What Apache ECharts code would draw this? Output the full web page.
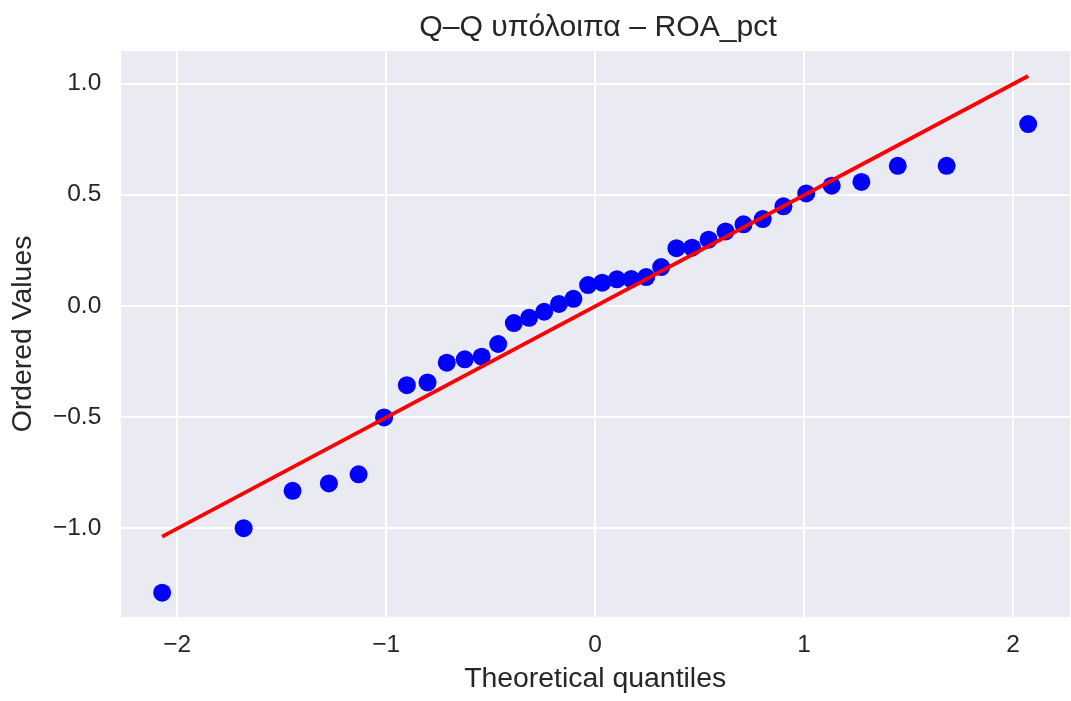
<!DOCTYPE html>
<html>
<head>
<meta charset="utf-8">
<script src="https://cdn.jsdelivr.net/npm/echarts@6/dist/echarts.min.js"></script>
<style>
html,body{margin:0;padding:0;background:#fff;}
#chart{width:1071px;height:701px;}
</style>
</head>
<body>
<div id="chart"></div>
<script>
const titleText = 'Q–Q υπόλοιπα – ROA_pct';
const xName = 'Theoretical quantiles';
const yName = 'Ordered Values';
const theoreticalQuantiles = [-2.072, -1.682, -1.448, -1.274, -1.132, -1.010, -0.901, -0.802, -0.710, -0.624, -0.543, -0.464, -0.389, -0.316, -0.244, -0.173, -0.104, -0.034, 0.034, 0.104, 0.173, 0.244, 0.316, 0.389, 0.464, 0.543, 0.624, 0.710, 0.802, 0.901, 1.010, 1.132, 1.274, 1.448, 1.682, 2.072];
const orderedValues = [-1.290, -1.000, -0.832, -0.799, -0.758, -0.502, -0.357, -0.345, -0.256, -0.241, -0.229, -0.172, -0.078, -0.054, -0.027, 0.008, 0.031, 0.093, 0.104, 0.119, 0.120, 0.129, 0.174, 0.259, 0.261, 0.297, 0.334, 0.366, 0.390, 0.447, 0.505, 0.540, 0.557, 0.629, 0.629, 0.817];
const fitLineX = [-2.072, 2.072];
const fitLineY = [-1.038, 1.033];
const xRange = [-2.277, 2.277];
const yRange = [-1.404, 1.150];

const FONT = '"Liberation Sans", Arial, sans-serif';
const TXT = '#262626';
const fmt = (v) => {
  const s = Math.abs(v) < 1e-9 ? '0' : String(v);
  return s.replace('-', '\u2212');
};
const fmtY = (v) => {
  const s = (Math.abs(v) < 1e-9 ? 0 : v).toFixed(1);
  return s.replace('-', '\u2212');
};

const chart = echarts.init(document.getElementById('chart'), null, {renderer: 'canvas'});
chart.setOption({
  animation: false,
  backgroundColor: '#ffffff',
  title: {
    text: titleText,
    left: 593, top: 8, textAlign: 'center',
    textStyle: {fontFamily: FONT, fontSize: 30.2, fontWeight: 'normal', color: TXT}
  },
  grid: {
    left: 119.3, right: -1, top: 50, bottom: 83,
    show: true, backgroundColor: '#EAEAF2', borderWidth: 0
  },
  xAxis: {
    type: 'value', min: xRange[0], max: xRange[1], splitNumber: 5,
    name: xName, nameLocation: 'middle', nameGap: 47,
    nameTextStyle: {fontFamily: FONT, fontSize: 28.4, color: TXT},
    axisLine: {show: false}, axisTick: {show: false},
    axisLabel: {fontFamily: FONT, fontSize: 24.5, color: TXT, margin: 15, formatter: fmt, showMinLabel: false, showMaxLabel: false},
    splitLine: {show: true, lineStyle: {color: '#ffffff', width: 2}}
  },
  yAxis: {
    type: 'value', min: yRange[0], max: yRange[1], splitNumber: 5,
    name: yName, nameLocation: 'middle', nameGap: 82,
    nameTextStyle: {fontFamily: FONT, fontSize: 28.4, color: TXT},
    axisLine: {show: false}, axisTick: {show: false},
    axisLabel: {fontFamily: FONT, fontSize: 24.5, color: TXT, margin: 18, formatter: fmtY, showMinLabel: false, showMaxLabel: false},
    splitLine: {show: true, lineStyle: {color: '#ffffff', width: 2}}
  },
  series: [
    {
      type: 'scatter',
      data: theoreticalQuantiles.map((x, i) => [x, orderedValues[i]]),
      symbol: 'circle', symbolSize: 18,
      itemStyle: {color: '#0000FF', opacity: 1},
      z: 2
    },
    {
      type: 'line',
      data: fitLineX.map((x, i) => [x, fitLineY[i]]),
      showSymbol: false, symbol: 'none',
      lineStyle: {color: '#FF0000', width: 3.8},
      z: 3
    }
  ]
});
</script>
</body>
</html>
